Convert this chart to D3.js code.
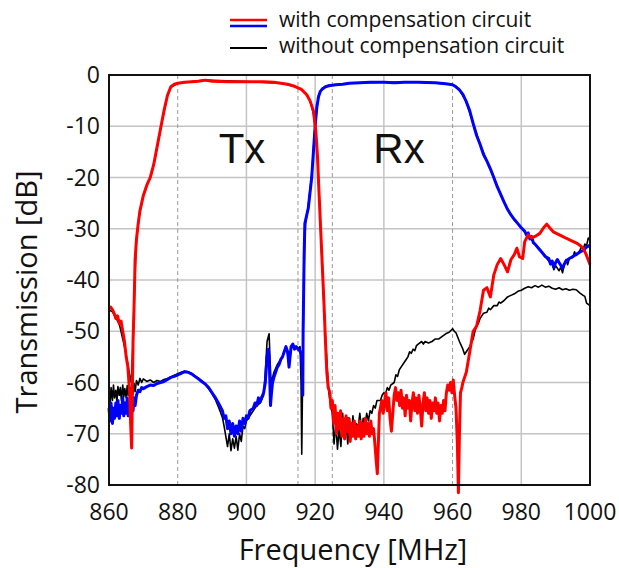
<!DOCTYPE html>
<html><head><meta charset="utf-8">
<script src="https://cdn.jsdelivr.net/npm/d3@7"></script>
<style>body{margin:0;background:#fff}svg{display:block}text{font-family:"Open Sans",sans-serif;fill:#111}</style>
</head><body>
<svg id="c" width="619" height="568"></svg>
<script>
// ---- data ----
const xTicks = [860, 880, 900, 920, 940, 960, 980, 1000];
const yTicks = [0, -10, -20, -30, -40, -50, -60, -70, -80];
const solidGridX = [900, 920, 940, 980];
const bandEdges = [880, 915, 925, 960];
const bandLabels = ["Tx", "Rx"];
const bandLabelFreq = [880, 925];
const legendLabels = ["with compensation circuit", "without compensation circuit"];

// Tx filter, with compensation circuit (red)
const txWith = [[860,-45.5],[860.5,-45.3],[861,-45.8],[861.5,-46.5],[862,-47.5],[862.5,-47],[863,-48.5],[863.5,-48],[864,-50],[864.5,-52],[865,-55],[865.5,-57],[866,-62],[866.3,-68],[866.6,-72.8],[866.8,-62],[867,-52],[867.3,-45],[867.6,-36],[868,-32],[868.5,-29],[869,-26.5],[870,-23.5],[871,-21.5],[872,-20],[873,-17.5],[874,-14],[875,-10.5],[876,-7],[877,-4],[878,-2.3],[879,-1.8],[880,-1.6],[882,-1.4],[884,-1.3],[886,-1.2],[888,-1.0],[890,-1.2],[895,-1.3],[900,-1.3],[905,-1.3],[908,-1.4],[910,-1.6],[912,-1.8],[914,-2.2],[916,-2.8],[917.5,-3.8],[918.5,-5],[919.5,-7],[920.2,-11],[920.7,-16],[921,-21],[921.4,-27],[921.8,-33],[922.2,-39],[922.6,-45],[923,-52],[923.4,-58],[923.8,-61],[924.3,-62],[924.6,-65],
[925,-63.5],[925.4,-68],[925.8,-64.5],[926.2,-70],[926.6,-66],[927,-69],[927.4,-65.5],[927.8,-70.5],[928.2,-67],[928.6,-71],[929,-66.5],[929.4,-69.5],[929.8,-67],[930.2,-71.5],[930.6,-68],[931,-70.5],[931.4,-67.5],[931.8,-71],[932.2,-68.5],[932.6,-70.5],[933,-67.5],[933.4,-71],[933.8,-68],[934.2,-70.5],[934.6,-67],[935,-70],[935.4,-68],[935.8,-70.5],[936.2,-67.5],[936.6,-70],[937,-69],[937.4,-72],[937.8,-75.5],[938.1,-77.8],[938.4,-72],[938.7,-66],[939,-65],[939.4,-63.5],[939.8,-66],[940.2,-64],[940.6,-62],[941,-65.5],[941.4,-63],[941.8,-67],[942.2,-69.5],[942.6,-66],[943,-62.5],[943.4,-61],[943.8,-63.5],[944.2,-62],[944.6,-64.5],[945,-61.5],[945.4,-65],[945.8,-63],[946.2,-66.5],[946.6,-62.5],[947,-65],[947.4,-63.5],[947.8,-67.5],[948.2,-64],[948.6,-62],[949,-65.5],[949.4,-63],[949.8,-66],[950.2,-62.5],[950.6,-65],[951,-68.5],[951.4,-64],[951.8,-62],[952.2,-65.5],[952.6,-63],[953,-66],[953.4,-63.5],[953.8,-67],[954.2,-64],[954.6,-65.5],[955,-63],[955.4,-66],[955.8,-64],[956.2,-67.5],[956.6,-64.5],[957,-66],[957.4,-63.5],[957.8,-65.5],[958.2,-62],[958.6,-60.5],[959,-61.5],[959.4,-60],[959.8,-62],[960.2,-59.5],[960.6,-62.5],[961,-65],[961.4,-72],[961.7,-81.5],[962,-70],[962.3,-62],[962.7,-61],[963,-60],[964,-58],[965,-54],[966,-50],[967,-49],[968,-46],[969,-42],[970,-41.5],[971,-43.3],[972,-39],[973,-37],[974,-35.8],[975,-37],[976,-38.4],[977,-36],[978,-35],[978.7,-33.8],[979.5,-35.5],[980.4,-35.8],[981,-32.5],[982,-31.2],[983,-31.8],[984,-31.5],[985.4,-30.9],[986.5,-29.8],[987.4,-29.1],[988.5,-30],[989.3,-30.6],[990.5,-31],[992,-31.5],[993.2,-31.9],[994.5,-32.3],[996.1,-32.8],[997,-33.2],[998,-33.8],[999,-35.2],[1000,-37]];

// Rx filter, with compensation circuit (blue)
const rxWith = [[860,-65],[860.3,-67.5],[860.6,-64],[861,-68],[861.3,-65],[861.6,-67],[862,-64],[862.3,-66.5],[862.6,-63.5],[863,-67],[863.3,-64.5],[863.6,-66],[864,-63],[864.3,-66.5],[864.6,-64],[865,-66],[865.3,-63],[865.6,-66.5],[866,-64],[866.3,-66],[866.6,-63],[867,-65.5],[867.3,-63],[867.6,-64.5],[868,-62.5],[868.5,-61.5],[869,-61.8],[869.5,-61],[870,-61.2],[871,-60.8],[872,-60.5],[873,-60.6],[874,-60.2],[875,-60],[876,-59.8],[877,-59.4],[878,-59],[879,-58.8],[880,-58.5],[881,-58.2],[882,-57.9],[883,-58],[884,-58.3],[885,-58.8],[886,-59.3],[887,-59.8],[888,-60.3],[889,-61],[890,-62],[891,-63],[892,-64.2],[893,-65.5],[893.5,-67],[894,-66.5],[894.5,-69],[895,-67.5],[895.5,-70],[896,-68],[896.5,-70.5],[897,-68.5],[897.5,-70],[898,-67.5],[898.5,-69.5],[899,-67],[899.5,-68],[900,-66.5],[900.5,-67],[901,-65.5],[902,-65],[902.5,-64],[903,-64.5],[903.5,-63],[904,-63.8],[904.5,-62.8],[905,-62],[905.5,-60],[906,-55],[906.4,-53.5],[906.7,-57],[907,-64.5],[907.3,-62],[907.6,-60],[908,-59],[908.5,-58],[909,-57],[909.5,-56.5],[910,-55.5],[910.5,-55],[911,-54],[911.5,-53],[912,-54],[912.4,-57],[912.7,-55],[913,-53],[913.5,-52.5],[914,-53.5],[914.5,-53],[915,-53.5],[915.5,-53.8],[916,-54.5],[916.3,-58],[916.4,-62.5],[916.5,-50],[916.6,-45],[916.8,-35],[917,-29],[917.5,-27.5],[918,-26],[918.5,-23],[919,-20],[919.5,-15],[920,-10],[920.5,-6.2],[921,-4.2],[921.5,-3.2],[922,-2.8],[923,-2.3],[924,-2.1],[926,-1.9],[928,-1.8],[930,-1.6],[933,-1.5],[936,-1.4],[940,-1.4],[943,-1.5],[946,-1.4],[950,-1.4],[955,-1.5],[958,-1.7],[960,-1.9],[961,-2.3],[962,-2.9],[963,-3.8],[964,-5.2],[965,-7],[966,-9.5],[967,-11.8],[968,-13.5],[969,-15.5],[970,-16.8],[971,-18.3],[972,-20],[973,-21.8],[974,-23.3],[975,-24.8],[976,-26.2],[977,-27.3],[978,-28.2],[979,-29],[980,-29.8],[981,-30.5],[981.5,-31.2],[982,-30.8],[982.5,-32],[983,-31.5],[983.5,-32.7],[984,-33],[985,-33.8],[986,-34.6],[987,-35.4],[988,-35.8],[988.5,-36.9],[989,-36.3],[989.5,-37.5],[990,-36.6],[990.5,-36],[991,-36.6],[992,-37.7],[992.5,-36.9],[993,-36.3],[994,-35.8],[995,-35.4],[996,-35],[997,-34.6],[998,-34.2],[999,-33.6],[1000,-33.2]];

// Tx filter, without compensation circuit (black)
const txWithout = [[860,-45.8],[861,-46.2],[862,-47.4],[863,-48.6],[864,-51.5],[864.5,-53],[865,-54.5],[865.5,-56.5],[866,-58.5],[866.5,-60],[867,-52],[867.5,-40],[868,-32.2],[868.5,-29.2],[869,-26.6],[870,-23.6],[871,-21.6],[872,-20.1],[873,-17.6],[874,-14.2],[875,-10.6],[876,-7.2],[877,-4.1],[878,-2.4],[880,-1.6],[888,-1.0],[900,-1.3],[910,-1.6],[914,-2.2],[916,-2.8],[917.5,-3.8],[918.5,-5],[919.5,-7.5],[920.3,-12],[920.8,-18],[921.2,-24],[921.6,-30],[922,-36],[922.5,-44],[923,-51],[923.5,-57],[924,-62],[924.5,-64.5],
[925,-66],[925.5,-72],[926,-68],[926.5,-73],[927,-69],[927.5,-72.5],[928,-66],[928.5,-71],[929,-68],[929.5,-72],[930,-67],[930.5,-70.5],[931,-66.5],[931.5,-70],[932,-68],[932.5,-69],[933,-66],[933.5,-69],[934,-67],[934.5,-68.5],[935,-66],[935.5,-67.5],[936,-65.5],[936.5,-66],[937,-64.5],[937.5,-65],[938,-63.5],[939,-63.5],[939.5,-62.5],[940,-62],[940.5,-62.2],[941,-61],[941.5,-61.5],[942,-60.5],[943,-60],[943.5,-58.5],[944,-58.8],[944.5,-57.5],[945,-57],[946,-56],[946.5,-55.5],[947,-55],[947.5,-54],[948,-54.3],[948.5,-53.5],[949,-53.8],[949.5,-52.8],[950,-52.5],[951,-52],[951.5,-52.5],[952,-52],[953,-52.3],[954,-52],[955,-51.5],[956,-51.5],[957,-51],[958,-50.5],[959,-50.2],[960,-49.5],[960.5,-50],[961,-50.3],[962,-52],[963,-53.5],[963.5,-54.5],[964,-54],[965,-53],[966,-51.5],[966.5,-50],[967,-49],[967.5,-48.5],[968,-47.5],[968.5,-47],[969,-46.5],[970,-46.3],[970.5,-45.5],[971,-45.8],[972,-45],[973,-45],[973.5,-44.3],[974,-44.5],[975,-44],[976,-43.3],[977,-43],[978,-42.7],[979,-42.2],[980,-42],[981,-41.6],[982,-41.3],[983,-41.5],[984,-41.1],[985,-41.4],[986,-41],[987,-41.4],[988,-41.2],[989,-41.6],[990,-41.8],[991,-41.5],[992,-41.9],[993,-41.7],[994,-42],[995,-41.8],[996,-41.9],[997,-42.5],[998,-43],[998.5,-43.2],[999,-44.5],[1000,-45]];

// Rx filter, without compensation circuit (black)
const rxWithout = [[860,-62],[860.3,-64.5],[860.6,-61],[861,-63.5],[861.3,-60.5],[861.6,-63],[862,-61.5],[862.3,-64],[862.6,-60.8],[863,-62.5],[863.3,-61],[863.6,-63.5],[864,-60.5],[864.3,-62.8],[864.6,-61.2],[865,-63],[865.3,-60.6],[865.6,-62.5],[866,-61],[866.3,-63.2],[866.6,-60.5],[867,-62.2],[867.3,-60.2],[867.6,-61.8],[868,-59.6],[868.5,-60.5],[869,-59.2],[869.5,-60],[870,-59.3],[871,-59.8],[872,-59.5],[873,-60],[874,-59.6],[875,-59.8],[876,-59.4],[877,-59.2],[878,-58.9],[879,-58.6],[880,-58.3],[881,-58],[882,-57.8],[883,-57.9],[884,-58.2],[885,-58.7],[886,-59.1],[887,-59.7],[888,-60.3],[889,-61.2],[890,-62.2],[891,-63.4],[892,-65],[893,-66.8],[893.5,-68.5],[894,-70.5],[894.5,-72.5],[895,-70],[895.5,-73.3],[896,-71],[896.5,-72.8],[897,-70.5],[897.5,-73.2],[898,-70],[898.5,-71.5],[899,-68.5],[899.5,-69],[900,-67.5],[901,-66.5],[902,-65.5],[903,-64.5],[904,-64],[905,-62.5],[905.5,-58],[906,-52],[906.6,-50.5],[906.9,-56],[907.2,-61],[907.6,-59],[908,-58],[909,-56.5],[910,-55.5],[911,-54.2],[911.5,-53],[912,-54.5],[912.5,-56],[913,-53.5],[913.5,-52.5],[914,-53],[915,-53.4],[915.6,-53],[915.9,-60],[916.1,-74],[916.3,-62],[916.6,-46],[916.9,-34],[917.2,-29],[918,-25.5],[919,-19.5],[920,-9.5],[921,-4],[922,-2.6],[924,-2],[930,-1.6],[940,-1.4],[950,-1.4],[958,-1.7],[960,-1.9],[962,-2.9],[964,-5.2],[966,-9.5],[968,-13.5],[970,-16.8],[972,-20],[974,-23.3],[976,-26.2],[978,-28.3],[980,-29.8],[982,-31.3],[984,-33],[986,-34.5],[987,-35.5],[988,-36.3],[989,-37],[989.5,-38],[990,-37.2],[991,-38.2],[991.5,-37.5],[992,-38.6],[992.5,-37.2],[993,-36],[993.5,-37],[994,-35.8],[995,-35.6],[995.5,-34.5],[996,-35.2],[997,-34.3],[997.5,-33.5],[998,-34],[998.5,-33],[999,-33.3],[999.5,-31.8],[1000,-32]];

// ---- chart ----
const svg = d3.select("#c");
const m = {l:109, r:590, t:75, b:485};
const x = d3.scaleLinear().domain([860,1000]).range([m.l, m.r]);
const y = d3.scaleLinear().domain([-80,0]).range([m.b, m.t]);

const g = svg.append("g");
// horizontal grid
g.selectAll(".hg").data(yTicks.filter(v => v > -80 && v < 0)).join("line")
  .attr("x1", m.l).attr("x2", m.r).attr("y1", d => y(d)).attr("y2", d => y(d))
  .attr("stroke", "#c4c4c4").attr("stroke-width", 1.5);
// vertical solid grid
g.selectAll(".vg").data(solidGridX).join("line")
  .attr("x1", d => x(d)).attr("x2", d => x(d)).attr("y1", m.t).attr("y2", m.b)
  .attr("stroke", "#c4c4c4").attr("stroke-width", 1.5);
// band edges dashed
g.selectAll(".be").data(bandEdges).join("line")
  .attr("x1", d => x(d)).attr("x2", d => x(d)).attr("y1", m.t).attr("y2", m.b)
  .attr("stroke", "#999").attr("stroke-width", 1).attr("stroke-dasharray", "4,3");

// band labels
svg.selectAll(".bl").data(bandLabels).join("text")
  .attr("x", (d,i) => x(bandLabelFreq[i]) + 41).attr("y", 163)
  .style("font-family", '"Liberation Sans", Arial, sans-serif').style("font-size", "42px")
  .text(d => d);

const line = d3.line().x(d => x(d[0])).y(d => y(d[1]));
const series = [
  {d: txWithout, c: "#000", w: 1.6},
  {d: rxWithout, c: "#000", w: 1.6},
  {d: rxWith, c: "#0000ff", w: 3},
  {d: txWith, c: "#ff0000", w: 3}
];
svg.selectAll(".s").data(series).join("path")
  .attr("d", s => line(s.d)).attr("fill", "none")
  .attr("stroke", s => s.c).attr("stroke-width", s => s.w)
  .attr("stroke-linejoin", "round");

// frame
svg.append("rect").attr("x", m.l).attr("y", m.t).attr("width", m.r - m.l).attr("height", m.b - m.t)
  .attr("fill", "none").attr("stroke", "#111").attr("stroke-width", 2);

// y tick labels
svg.selectAll(".yt").data(yTicks).join("text")
  .attr("x", 100).attr("y", d => y(d) + 8).attr("text-anchor", "end")
  .style("font-size", "23px").text(d => d);
// x tick labels
svg.selectAll(".xt").data(xTicks).join("text")
  .attr("x", d => x(d)).attr("y", 520).attr("text-anchor", "middle")
  .style("font-size", "23px").text(d => d);

// axis titles
svg.append("text").attr("x", 353).attr("y", 560).attr("text-anchor", "middle")
  .style("font-size", "29px").text("Frequency [MHz]");
svg.append("text").attr("transform", "translate(37,292) rotate(-90)").attr("text-anchor", "middle")
  .style("font-size", "29px").text("Transmission [dB]");

// legend
const lg = svg.append("g");
lg.append("line").attr("x1", 230).attr("x2", 267).attr("y1", 20).attr("y2", 20).attr("stroke", "#ff0000").attr("stroke-width", 2.5);
lg.append("line").attr("x1", 230).attr("x2", 267).attr("y1", 26).attr("y2", 26).attr("stroke", "#0000ff").attr("stroke-width", 2.5);
lg.append("line").attr("x1", 230).attr("x2", 267).attr("y1", 48).attr("y2", 48).attr("stroke", "#000").attr("stroke-width", 2);
lg.selectAll("text").data(legendLabels).join("text")
  .attr("x", 279).attr("y", (d,i) => 27 + i*26)
  .style("font-size", "21px").text(d => d);
</script>
</body></html>
